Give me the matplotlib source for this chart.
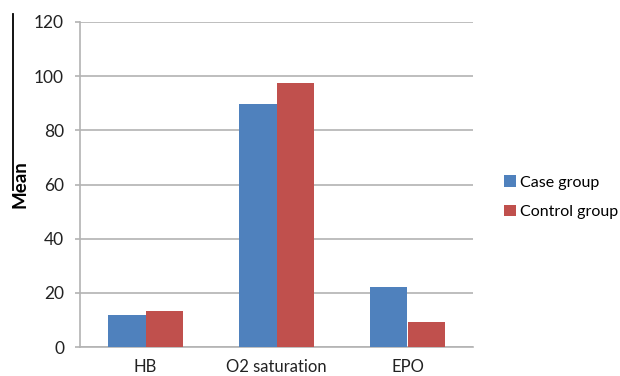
import matplotlib
matplotlib.use("Agg")
import matplotlib.pyplot as plt
from matplotlib.lines import Line2D
from matplotlib.patches import Patch
import numpy as np

categories = ["HB", "O2 saturation", "EPO"]
case_group = [12.0, 89.6, 22.2]
control_group = [13.4, 97.3, 9.3]
series_names = ["Case group", "Control group"]
y_ticks = [0, 20, 40, 60, 80, 100, 120]

BLUE = "#4F81BD"
RED = "#C0504D"
GRID = "#B3B3B3"

plt.rcParams["font.family"] = ["Lato", "DejaVu Sans"]

fig = plt.figure(figsize=(6.2, 3.76), dpi=100)
ax = fig.add_axes([80 / 620, 29 / 376, 393 / 620, 325 / 376])

x = np.arange(len(categories))
w = 0.285
ax.bar(x - w / 2, case_group, width=w, color=BLUE, zorder=3)
ax.bar(x + w / 2, control_group, width=w, color=RED, zorder=3)

ax.set_xlim(-0.5, len(categories) - 0.5)
ax.set_ylim(0, 120)
ax.set_yticks(y_ticks)
ax.set_xticks(x)
ax.set_xticklabels(categories)
ax.yaxis.grid(True, color=GRID, linewidth=1.2, zorder=0)
ax.set_axisbelow(True)

for side in ("top", "right"):
    ax.spines[side].set_visible(False)
for side in ("left", "bottom"):
    ax.spines[side].set_color(GRID)
    ax.spines[side].set_linewidth(1.2)

ax.tick_params(axis="y", length=3.5, width=1.2, color=GRID, labelsize=12.5,
               labelcolor="#222222", pad=8)
ax.tick_params(axis="x", length=0, labelsize=12, labelcolor="#222222", pad=9)

ax.set_ylabel("Mean", fontsize=13.5, fontweight="bold", labelpad=0)
ax.yaxis.set_label_coords(-52 / 393, 0.50)

handles = [Patch(facecolor=BLUE), Patch(facecolor=RED)]
fig.legend(handles, series_names, loc="upper left",
           bbox_to_anchor=(498 / 620, 1 - 169 / 376), frameon=False,
           fontsize=11.5, handlelength=0.7, handleheight=0.7,
           handletextpad=0.3, labelspacing=0.95, borderaxespad=0)

fig.add_artist(Line2D([13 / 620, 13 / 620], [1 - 14 / 376, 1 - 190 / 376],
                      color="black", linewidth=1.3))

fig.savefig("out.png", dpi=100)
